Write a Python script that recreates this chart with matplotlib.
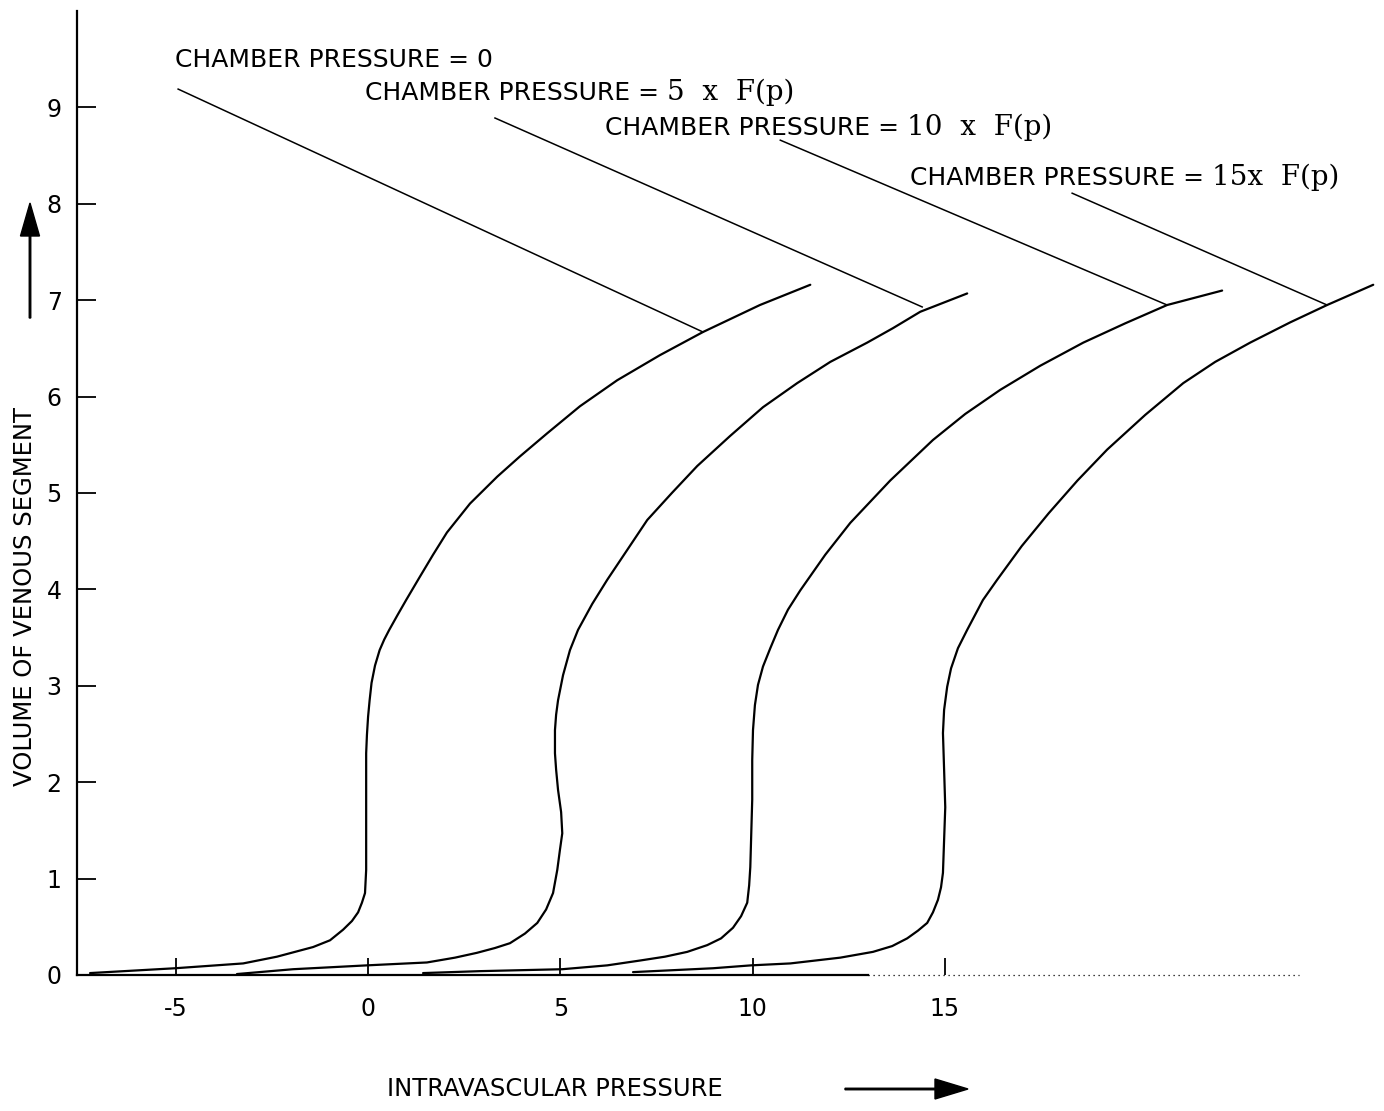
import matplotlib
matplotlib.use('Agg')
from matplotlib import pyplot as plt
from matplotlib.patches import FancyArrow

# values: intravascular pressure vs volume of venous segment
chamber_pressures = [0, 5, 10, 15]

press_0 = [-7.23, -5.02, -3.25, -2.37, -1.43, -0.99, -0.65, -0.42, -0.26, -0.16, -0.08,
           -0.05, -0.05, -0.05, -0.03, 0.0, 0.04, 0.09, 0.18, 0.30, 0.42, 0.55, 0.76,
           0.99, 1.33, 1.69, 2.05, 2.65, 3.36, 3.95, 4.66, 5.51, 6.48, 7.59, 8.71,
           10.19, 11.50]
vol_0 = [0.02, 0.07, 0.12, 0.19, 0.29, 0.36, 0.47, 0.56, 0.65, 0.75, 0.85,
         1.09, 1.82, 2.30, 2.49, 2.68, 2.85, 3.03, 3.21, 3.37, 3.48, 3.58, 3.73,
         3.89, 4.12, 4.36, 4.59, 4.89, 5.17, 5.38, 5.62, 5.90, 6.17, 6.43, 6.67,
         6.95, 7.16]

press_5 = [-3.41, -1.95, -0.03, 1.53, 2.26, 2.83, 3.30, 3.69, 4.08, 4.40, 4.63, 4.81,
           4.92, 4.99, 5.05, 5.02, 4.94, 4.89, 4.86, 4.86, 4.89, 4.94, 5.07, 5.25,
           5.46, 5.83, 6.22, 6.74, 7.26, 7.90, 8.56, 9.41, 10.27, 11.16, 12.02, 12.98,
           13.65, 14.36, 15.58]
vol_5 = [0.01, 0.06, 0.10, 0.13, 0.18, 0.23, 0.28, 0.33, 0.43, 0.54, 0.68, 0.85,
         1.09, 1.30, 1.47, 1.69, 1.92, 2.13, 2.30, 2.54, 2.70, 2.85, 3.11, 3.37,
         3.58, 3.85, 4.10, 4.41, 4.72, 5.00, 5.28, 5.59, 5.89, 6.14, 6.36, 6.56,
         6.71, 6.88, 7.07]

press_10 = [1.43, 2.91, 5.05, 6.22, 7.07, 7.72, 8.30, 8.82, 9.18, 9.49, 9.70, 9.86,
            9.91, 9.94, 9.96, 9.99, 9.99, 10.01, 10.06, 10.14, 10.27, 10.46, 10.66,
            10.92, 11.24, 11.89, 12.54, 13.58, 14.69, 15.53, 16.44, 17.48, 18.60,
            19.69, 20.78, 22.21]
vol_10 = [0.02, 0.04, 0.06, 0.10, 0.15, 0.19, 0.24, 0.31, 0.38, 0.49, 0.61, 0.75,
          0.93, 1.12, 1.40, 1.82, 2.23, 2.54, 2.80, 3.01, 3.20, 3.39, 3.58,
          3.79, 3.99, 4.36, 4.69, 5.13, 5.55, 5.82, 6.07, 6.32, 6.56,
          6.76, 6.95, 7.10]

press_15 = [6.89, 8.97, 9.96, 10.98, 12.28, 13.13, 13.63, 14.02, 14.30, 14.54, 14.69,
            14.82, 14.90, 14.95, 14.98, 15.01, 14.98, 14.95, 14.98, 15.06, 15.16, 15.34,
            15.58, 15.99, 16.36, 17.00, 17.70, 18.45, 19.22, 20.21, 21.20, 22.03, 22.94,
            23.98, 24.94, 26.14]
vol_15 = [0.03, 0.07, 0.10, 0.12, 0.18, 0.24, 0.30, 0.38, 0.46, 0.54, 0.65,
          0.78, 0.91, 1.06, 1.40, 1.74, 2.13, 2.51, 2.75, 2.99, 3.18, 3.39,
          3.58, 3.89, 4.10, 4.45, 4.79, 5.13, 5.45, 5.81, 6.14, 6.36, 6.56,
          6.77, 6.95, 7.16]

curves_x = [press_0, press_5, press_10, press_15]
curves_v = [vol_0, vol_5, vol_10, vol_15]

# leader lines from each label to its curve
leader_x = [[-4.94, 8.71], [3.30, 14.41], [10.72, 20.78], [18.31, 24.94]]
leader_v = [[9.19, 6.67], [8.89, 6.93], [8.66, 6.95], [8.11, 6.95]]

label_head = 'CHAMBER PRESSURE = '
label_tails = ['0', '5  x  F(p)', '10  x  F(p)', '15x  F(p)']
label_pos = [(-5.02, 9.42), (-0.08, 9.08), (6.16, 8.71), (14.1, 8.20)]

x_ticks = [-5, 0, 5, 10, 15]
x_tick_labels = ['-5', '0', '5', '10', '15']
y_ticks = [0, 1, 2, 3, 4, 5, 6, 7, 8, 9]

plt.rcParams['font.family'] = ['DejaVu Sans']

fig = plt.figure(figsize=(13.84, 11.11), dpi=100)
ax = fig.add_axes([77 / 1384, 136 / 1111, 1307 / 1384, 964 / 1111])
ax.set_xlim(-7.57, 26.42)
ax.set_ylim(0, 10)

for xs, vs in zip(curves_x, curves_v):
    ax.plot(xs, vs, color='black', lw=1.6, solid_capstyle='round',
            solid_joinstyle='round', clip_on=False)

for xs, vs in zip(leader_x, leader_v):
    ax.plot(xs, vs, color='black', lw=1.1)

for i, (tx, ty) in enumerate(label_pos):
    if i == 0:
        ax.text(tx, ty, label_head + label_tails[i], fontsize=18, va='baseline', ha='left')
    else:
        t = ax.text(tx, ty, label_head, fontsize=18, va='baseline', ha='left')
        ax.annotate(label_tails[i], xy=(1, ty), xycoords=(t, 'data'), fontsize=20,
                    family='DejaVu Serif', va='baseline', ha='left')

for side in ['top', 'right', 'bottom']:
    ax.spines[side].set_visible(False)
ax.spines['left'].set_linewidth(1.6)

# x axis baseline: solid, then fading to dots on the right
ax.plot([-7.57, 13.0], [0, 0], color='black', lw=1.6, clip_on=False)
ax.plot([13.0, 24.2], [0, 0], color='black', lw=0.9, ls=(0, (1, 3)), clip_on=False)

ax.set_xticks(x_ticks)
ax.set_xticklabels(x_tick_labels)
ax.set_yticks(y_ticks)
ax.tick_params(axis='x', direction='in', length=12, width=1.3, pad=16, labelsize=17)
ax.tick_params(axis='y', direction='in', length=14, width=1.3, pad=11, labelsize=17)

fig.text(25 / 1384, 514 / 1111, 'VOLUME OF VENOUS SEGMENT', rotation=90, fontsize=17.5,
         ha='center', va='center')
fig.text(555 / 1384, 22 / 1111, 'INTRAVASCULAR PRESSURE', fontsize=17.5,
         ha='center', va='center')

# direction arrows
fig.patches.append(FancyArrow(30 / 1384, 793 / 1111, 0, 115 / 1111, width=1.5 / 1384,
                              head_width=19 / 1384, head_length=33 / 1111,
                              length_includes_head=True, color='black',
                              transform=fig.transFigure, figure=fig))
fig.patches.append(FancyArrow(845 / 1384, 22 / 1111, 123 / 1384, 0, width=1.5 / 1111,
                              head_width=20 / 1111, head_length=33 / 1384,
                              length_includes_head=True, color='black',
                              transform=fig.transFigure, figure=fig))

fig.savefig('out.png', dpi=100, facecolor='white')
